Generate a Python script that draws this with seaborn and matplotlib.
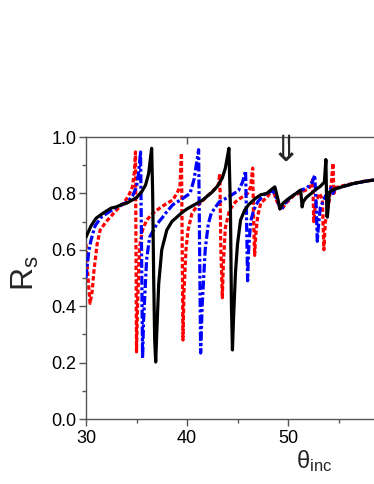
import numpy as np
import pandas as pd
import matplotlib
matplotlib.use("Agg")
import matplotlib.pyplot as plt
import seaborn as sns

# ---- data ----
black_x = [30.0, 30.5, 31.0, 31.5, 32.0, 32.5, 33.0, 33.5, 34.0, 34.5, 35.0, 35.5, 35.9, 36.2, 36.4, 36.5,
           36.6, 36.7, 36.8, 36.9, 37.0, 37.2, 37.5, 38.0, 38.5, 39.0, 39.5, 40.0, 40.5, 41.0, 41.5, 42.0,
           42.5, 43.0, 43.5, 43.8, 44.0, 44.15, 44.3, 44.4, 44.5, 44.6, 44.8, 45.0, 45.3, 45.7, 46.1, 46.8,
           47.3, 47.9, 48.4, 48.7, 49.0, 49.2, 49.5, 49.9, 50.4, 51.0, 51.25, 51.4, 51.5, 51.8, 52.3, 52.8,
           53.2, 53.6, 53.75, 53.85, 53.9, 54.1, 54.6, 55.5, 56.5, 57.5, 58.6, 59.2]
black_y = [0.645, 0.685, 0.712, 0.725, 0.737, 0.748, 0.752, 0.760, 0.765, 0.775, 0.785, 0.805, 0.830, 0.870, 0.930, 0.960,
           0.800, 0.500, 0.280, 0.202, 0.300, 0.480, 0.600, 0.670, 0.700, 0.716, 0.732, 0.745, 0.755, 0.765, 0.775, 0.790,
           0.805, 0.825, 0.855, 0.890, 0.930, 0.960, 0.750, 0.400, 0.245, 0.350, 0.520, 0.620, 0.705, 0.740, 0.760, 0.783,
           0.795, 0.800, 0.815, 0.823, 0.780, 0.745, 0.765, 0.777, 0.790, 0.805, 0.812, 0.752, 0.770, 0.785, 0.800, 0.815,
           0.825, 0.840, 0.920, 0.720, 0.716, 0.805, 0.815, 0.825, 0.835, 0.842, 0.848, 0.850]

blue_x = [30.0, 30.1, 30.3, 30.5, 30.9, 31.5, 32.1, 33.0, 34.1, 34.6, 35.0, 35.2, 35.4, 35.5, 35.6, 35.7,
          36.0, 36.3, 37.0, 37.6, 38.0, 38.6, 39.5, 40.3, 40.7, 41.0, 41.15, 41.25, 41.35, 41.5, 41.8, 42.1,
          42.4, 43.2, 44.1, 45.1, 45.5, 45.8, 45.9, 46.0, 46.1, 46.3, 46.6, 47.0, 47.6, 48.5, 48.9, 49.3,
          49.7, 50.2, 51.2, 51.9, 52.4, 52.65, 52.8, 52.9, 53.0, 53.2, 53.7, 54.3, 54.45, 54.6, 55.5, 56.5,
          57.5, 58.6, 59.2]
blue_y = [0.500, 0.540, 0.600, 0.635, 0.685, 0.715, 0.730, 0.750, 0.770, 0.790, 0.823, 0.870, 0.947, 0.600, 0.216, 0.350,
          0.565, 0.645, 0.690, 0.716, 0.735, 0.760, 0.780, 0.800, 0.850, 0.920, 0.955, 0.600, 0.234, 0.400, 0.600, 0.690,
          0.730, 0.770, 0.787, 0.810, 0.840, 0.880, 0.700, 0.490, 0.600, 0.700, 0.740, 0.770, 0.795, 0.810, 0.780, 0.740,
          0.765, 0.785, 0.810, 0.820, 0.840, 0.865, 0.750, 0.630, 0.680, 0.750, 0.790, 0.820, 0.800, 0.815, 0.825, 0.835,
          0.842, 0.848, 0.850]

red_x = [30.0, 30.2, 30.4, 30.6, 30.8, 31.1, 31.4, 32.0, 32.4, 33.0, 33.7, 34.2, 34.6, 34.8, 34.9, 34.95,
         35.0, 35.1, 35.3, 35.6, 36.0, 36.5, 37.0, 37.8, 38.6, 39.0, 39.3, 39.45, 39.55, 39.6, 39.7, 39.9,
         40.1, 40.5, 41.0, 41.3, 41.9, 42.6, 43.1, 43.25, 43.35, 43.5, 43.6, 43.8, 44.2, 44.8, 45.3, 46.0,
         46.3, 46.5, 46.6, 46.7, 46.8, 47.0, 47.3, 48.0, 48.5, 48.8, 49.3, 49.8, 50.5, 51.3, 52.0, 52.3,
         52.45, 52.55, 52.7, 53.1, 53.4, 53.55, 53.7, 54.1, 54.3, 54.45, 54.55, 54.7, 55.5, 56.5, 57.5, 58.6, 59.2]
red_y = [0.620, 0.500, 0.410, 0.450, 0.530, 0.620, 0.670, 0.700, 0.716, 0.740, 0.765, 0.790, 0.823, 0.880, 0.947, 0.600,
         0.238, 0.400, 0.610, 0.670, 0.705, 0.725, 0.740, 0.760, 0.777, 0.800, 0.823, 0.943, 0.500, 0.280, 0.450, 0.600,
         0.670, 0.730, 0.755, 0.765, 0.787, 0.810, 0.830, 0.870, 0.600, 0.430, 0.550, 0.680, 0.740, 0.770, 0.783, 0.800,
         0.823, 0.890, 0.700, 0.580, 0.650, 0.720, 0.765, 0.790, 0.815, 0.780, 0.740, 0.765, 0.790, 0.805, 0.815, 0.830,
         0.850, 0.700, 0.760, 0.800, 0.780, 0.600, 0.700, 0.780, 0.840, 0.907, 0.800, 0.820, 0.828, 0.836, 0.843, 0.848, 0.850]

x_ticks = [30, 40, 50]
x_minor = [35, 45, 55]
y_ticks = [0.0, 0.2, 0.4, 0.6, 0.8, 1.0]
y_minor = [0.1, 0.3, 0.5, 0.7, 0.9]
arrow_x = 49.75

# ---- style ----
sns.set_style("ticks")
plt.rcParams['font.family'] = ['Liberation Sans', 'DejaVu Sans']
plt.rcParams['mathtext.fontset'] = 'custom'
plt.rcParams['mathtext.rm'] = 'Liberation Sans'
plt.rcParams['mathtext.it'] = 'Liberation Sans:italic'

fig = plt.figure(figsize=(3.74, 4.84), dpi=100)
ax = fig.add_axes([86/374, 65/484, (380-86)/374, 282/484])

df_b = pd.DataFrame({'x': black_x, 'y': black_y})
df_u = pd.DataFrame({'x': blue_x, 'y': blue_y})
df_r = pd.DataFrame({'x': red_x, 'y': red_y})

sns.lineplot(data=df_r, x='x', y='y', ax=ax, sort=False, estimator=None, color='#FF0000',
             linewidth=2.3, linestyle=(0, (1.4, 0.75)), zorder=2)
sns.lineplot(data=df_u, x='x', y='y', ax=ax, sort=False, estimator=None, color='#0000FF',
             linewidth=2.3, linestyle=(0, (2.8, 0.8, 0.9, 0.8)), zorder=3)
sns.lineplot(data=df_b, x='x', y='y', ax=ax, sort=False, estimator=None, color='black',
             linewidth=2.3, zorder=4)

ax.set_xlim(30, 30 + 294/10.1)
ax.set_ylim(0, 1.0)
ax.set_xlabel('')
ax.set_ylabel('')

ax.set_xticks(x_ticks)
ax.set_xticklabels([str(t) for t in x_ticks])
ax.set_xticks(x_minor, minor=True)
ax.set_yticks(y_ticks)
ax.set_yticklabels([f'{t:.1f}' for t in y_ticks])
ax.set_yticks(y_minor, minor=True)

spine_col = '#555555'
for s in ['left', 'bottom', 'top', 'right']:
    ax.spines[s].set_color(spine_col)
    ax.spines[s].set_linewidth(1.0)
ax.tick_params(axis='both', which='major', direction='out', length=5, width=1.0,
               color=spine_col, labelsize=13, labelcolor='black', pad=2)
ax.tick_params(axis='both', which='minor', direction='out', length=3, width=1.0, color=spine_col)
ax.tick_params(axis='x', which='major', pad=3)

# mirrored top ticks (inward, major only)
axt = ax.secondary_xaxis('top')
axt.set_xticks([40, 50])
axt.tick_params(direction='in', length=5, width=1.0, color=spine_col, labeltop=False)
axt.spines['top'].set_visible(False)

# labels
fig.text(25/374, 1 - 273/484, 'R$_\\mathregular{s}$', rotation=90, fontsize=23,
         ha='center', va='center')
fig.text(314/374, 1 - 461/484, 'θ$_\\mathregular{inc}$', fontsize=17, ha='center', va='center')

# arrow marker
ax.text(arrow_x, 1.012, '⇓', fontsize=26, ha='center', va='top', family=['DejaVu Sans'])

fig.savefig('out.png', dpi=100)
